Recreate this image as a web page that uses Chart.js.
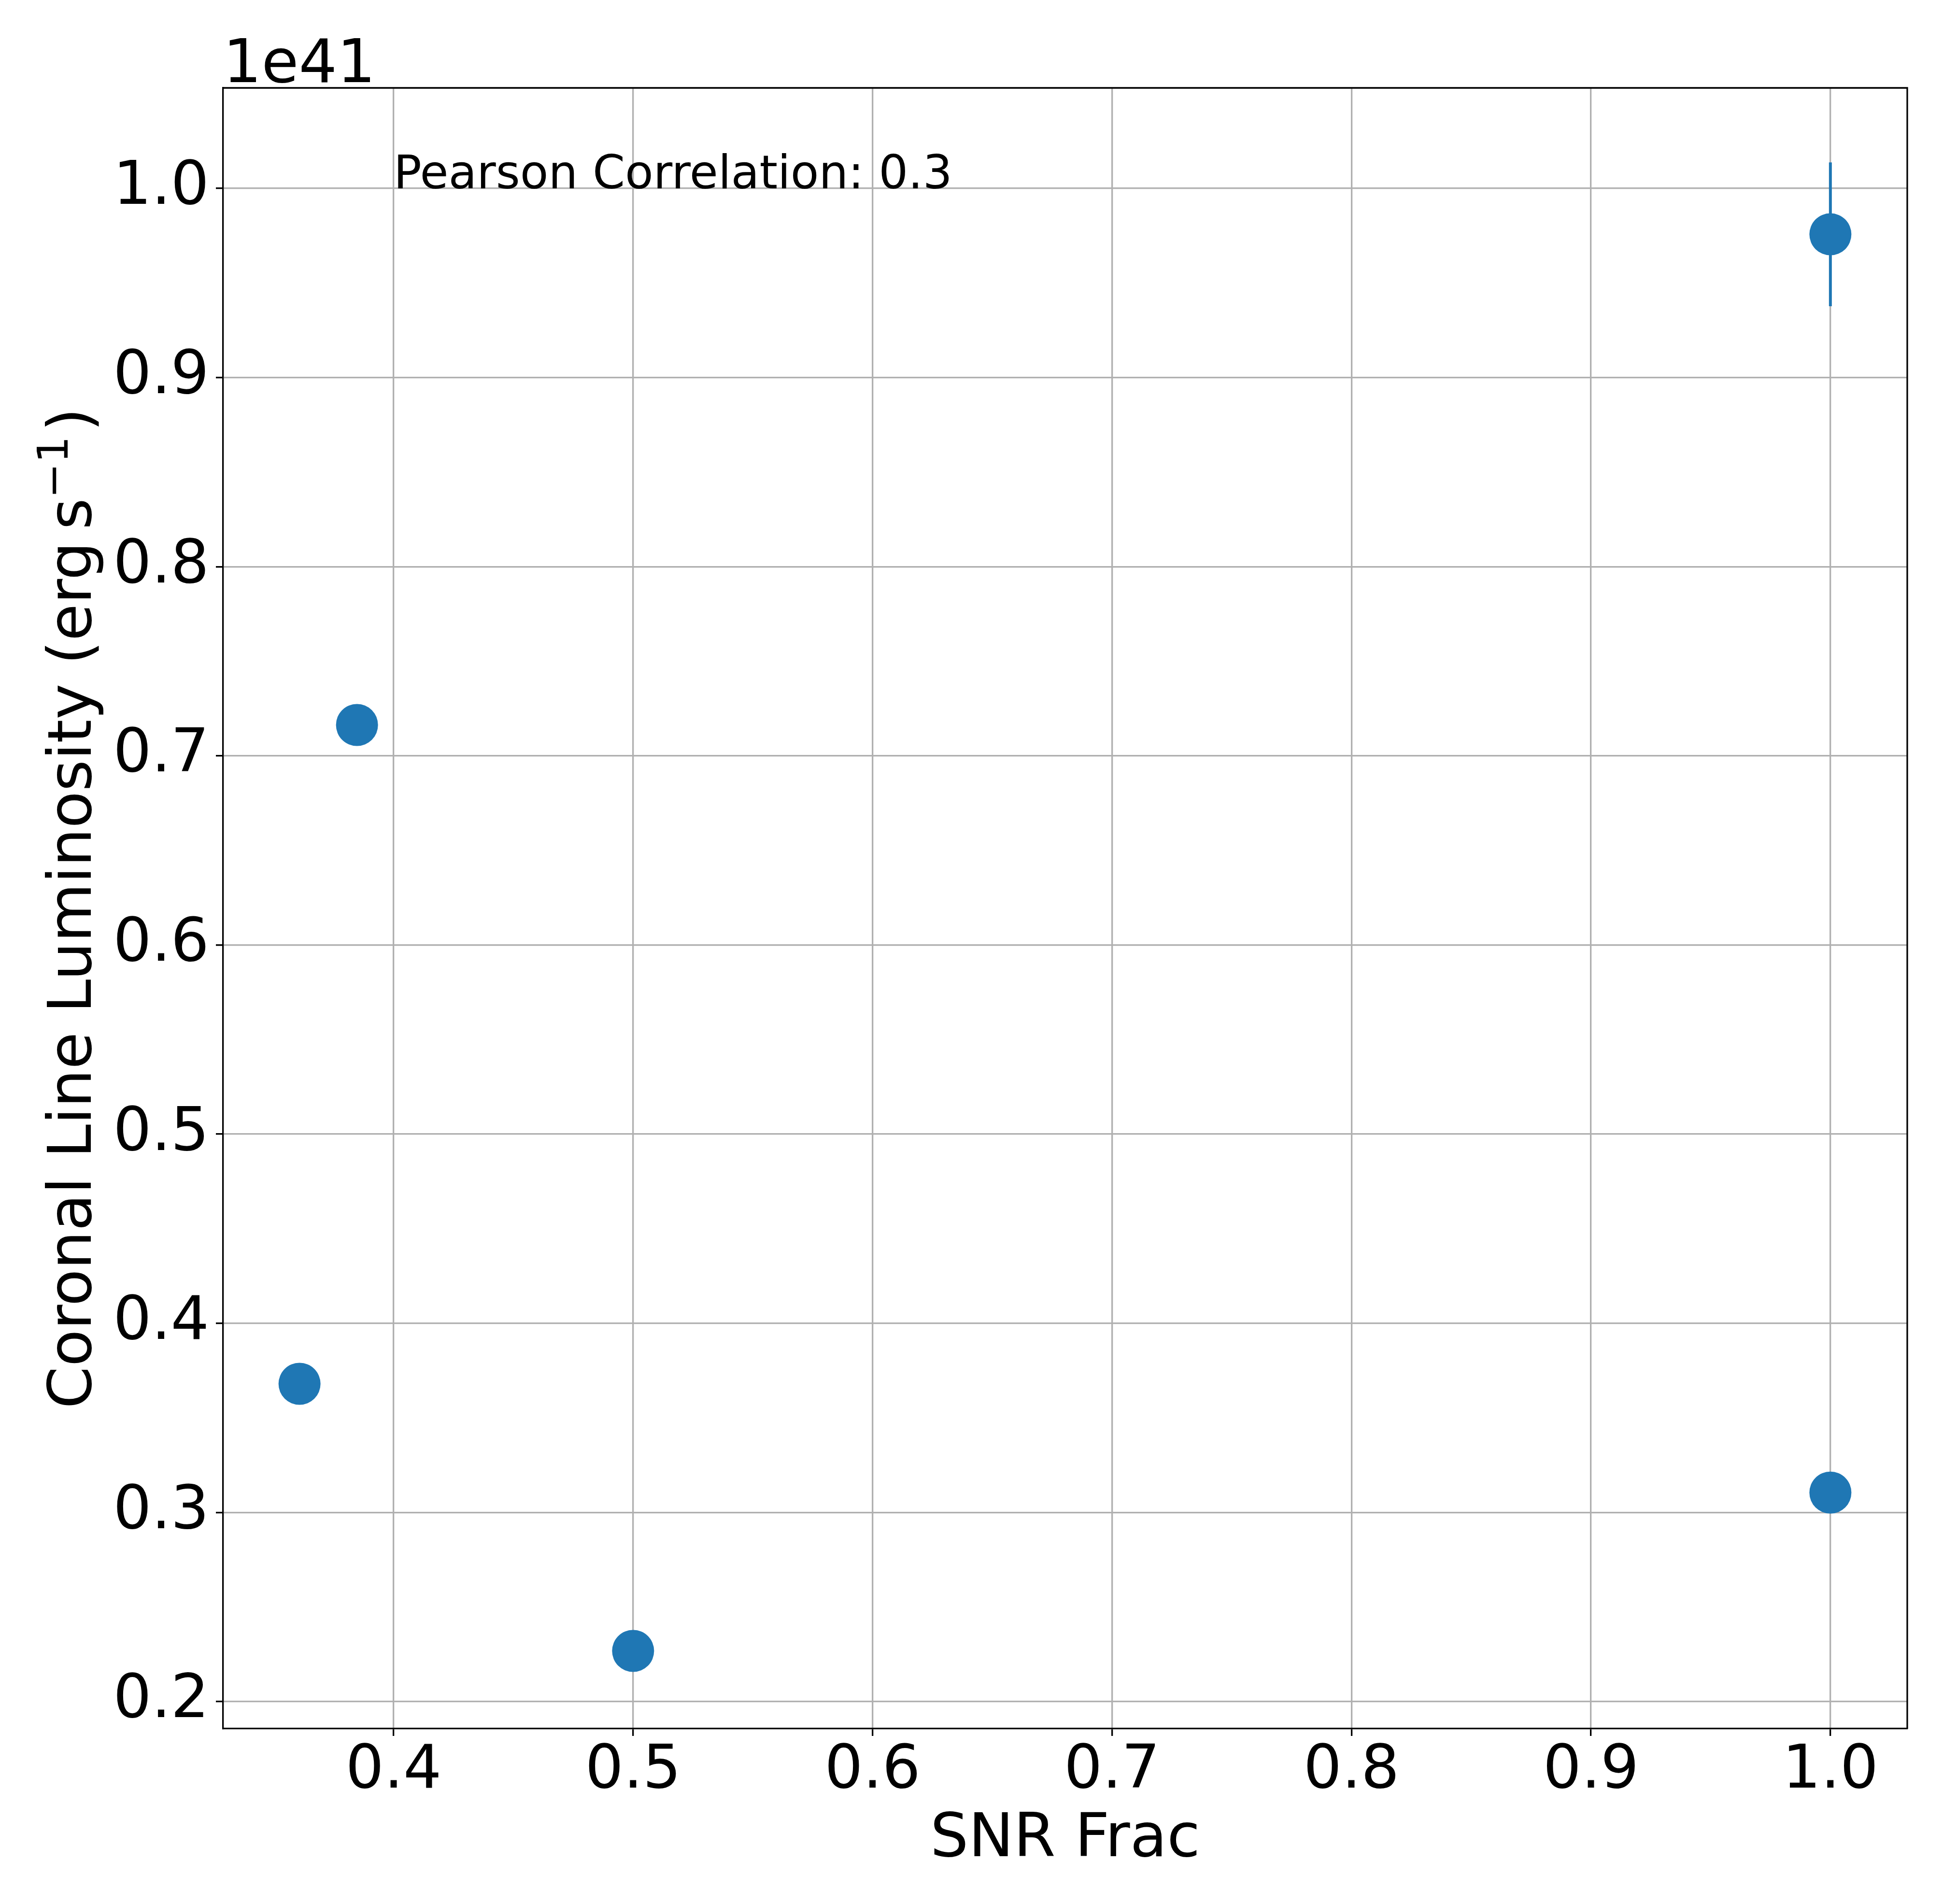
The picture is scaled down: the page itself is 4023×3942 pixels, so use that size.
<!DOCTYPE html>
<html>
<head>
<meta charset="utf-8">
<script src="https://cdn.jsdelivr.net/npm/chart.js@4.4.1/dist/chart.umd.min.js"></script>
<style>
  html, body { margin: 0; padding: 0; background: #fff; }
  canvas { display: block; }
</style>
</head>
<body>
<canvas id="chart" width="4023" height="3942" style="width:4023px;height:3942px"></canvas>
<script>
// values (luminosity in units of 1e41 erg/s)
const snrFrac    = [0.3607, 0.3847, 0.5, 1.0, 1.0];
const luminosity = [0.368, 0.7163, 0.2268, 0.3105, 0.9757];
const lumErr     = [0, 0, 0, 0, 0.038];

// axes
const xTicks = [0.4, 0.5, 0.6, 0.7, 0.8, 0.9, 1.0];
const yTicks = [0.2, 0.3, 0.4, 0.5, 0.6, 0.7, 0.8, 0.9, 1.0];
const xRange = [0.3288, 1.0321];
const yRange = [0.1857, 1.0531];

// text
const xLabel      = "SNR Frac";
const yLabelMain  = "Coronal Line Luminosity (erg\u2009s";
const yLabelSup   = "\u22121";
const yLabelEnd   = ")";
const offsetText  = "1e41";
const pearsonText = "Pearson Correlation: 0.3";
const pearsonAt   = [0.4, 1.0];

const FONT  = "'DejaVu Sans', sans-serif";
const BLUE  = "#1f77b4";
const GRID  = "#b0b0b0";
const LW    = 3.3;

// ---------------------------
// error bars + frame + labels
// ---------------------------
const extras = {
  id: "extras",
  beforeDatasetsDraw(chart) {
    const { ctx, scales: { x, y } } = chart;
    ctx.save();
    ctx.strokeStyle = BLUE;
    ctx.lineWidth = 6;
    ctx.lineCap = "butt";
    snrFrac.forEach((v, i) => {
      if (!lumErr[i]) return;
      const px = x.getPixelForValue(v);
      ctx.beginPath();
      ctx.moveTo(px, y.getPixelForValue(luminosity[i] - lumErr[i]));
      ctx.lineTo(px, y.getPixelForValue(luminosity[i] + lumErr[i]));
      ctx.stroke();
    });
    ctx.restore();
  },
  afterDraw(chart) {
    const { ctx, chartArea: a, scales: { x, y } } = chart;
    ctx.save();

    // top and right spines
    ctx.strokeStyle = "#000";
    ctx.lineWidth = LW;
    ctx.beginPath();
    ctx.moveTo(a.left, a.top);
    ctx.lineTo(a.right, a.top);
    ctx.lineTo(a.right, a.bottom);
    ctx.stroke();

    ctx.fillStyle = "#000";
    ctx.textBaseline = "alphabetic";

    // annotation
    ctx.font = `96px ${FONT}`;
    ctx.textAlign = "left";
    ctx.fillText(pearsonText, x.getPixelForValue(pearsonAt[0]), y.getPixelForValue(pearsonAt[1]));

    // offset text
    ctx.font = `125px ${FONT}`;
    ctx.fillText(offsetText, a.left, 170);

    // x label
    ctx.textAlign = "center";
    ctx.fillText(xLabel, (a.left + a.right) / 2, 3843);

    // y label, rotated, with superscript
    ctx.textAlign = "left";
    const mainFont = `125px ${FONT}`, supFont = `87px ${FONT}`;
    ctx.font = mainFont;
    const w1 = ctx.measureText(yLabelMain).width;
    const w3 = ctx.measureText(yLabelEnd).width;
    ctx.font = supFont;
    const w2 = ctx.measureText(yLabelSup).width;
    const gap = 10;
    const total = w1 + w2 + gap + w3;
    ctx.translate(188, (a.top + a.bottom) / 2);
    ctx.rotate(-Math.PI / 2);
    let cx = -total / 2;
    ctx.font = mainFont;
    ctx.fillText(yLabelMain, cx, 0);
    cx += w1;
    ctx.font = supFont;
    ctx.fillText(yLabelSup, cx, -48);
    cx += w2 + gap;
    ctx.font = mainFont;
    ctx.fillText(yLabelEnd, cx, 0);

    ctx.restore();
  }
};

const tickFmt = v => Number(v).toFixed(1);

new Chart(document.getElementById("chart"), {
  type: "scatter",
  data: {
    datasets: [{
      data: snrFrac.map((v, i) => ({ x: v, y: luminosity[i] })),
      backgroundColor: BLUE,
      borderColor: BLUE,
      pointRadius: 43.5,
      pointHoverRadius: 43.5,
      pointBorderWidth: 0
    }]
  },
  options: {
    responsive: false,
    devicePixelRatio: 1,
    animation: false,
    events: [],
    layout: { padding: { top: 182, right: 74, bottom: 0, left: 0 } },
    plugins: { legend: { display: false }, tooltip: { enabled: false } },
    scales: {
      x: {
        type: "linear",
        min: xRange[0],
        max: xRange[1],
        afterBuildTicks: s => { s.ticks = xTicks.map(v => ({ value: v })); },
        afterFit: s => { s.height = 3942 - 3579; },
        grid: { color: GRID, lineWidth: LW, tickColor: "#000", tickLength: 15, tickWidth: LW },
        border: { display: true, color: "#000", width: LW },
        ticks: {
          autoSkip: false, maxRotation: 0, minRotation: 0, padding: 0,
          color: "#000", font: { family: FONT, size: 125 }, callback: tickFmt
        }
      },
      y: {
        type: "linear",
        min: yRange[0],
        max: yRange[1],
        afterBuildTicks: s => { s.ticks = yTicks.map(v => ({ value: v })); },
        afterFit: s => { s.width = 462; },
        grid: { color: GRID, lineWidth: LW, tickColor: "#000", tickLength: 15, tickWidth: LW },
        border: { display: true, color: "#000", width: LW },
        ticks: {
          autoSkip: false, padding: 14,
          color: "#000", font: { family: FONT, size: 125 }, callback: tickFmt
        }
      }
    }
  },
  plugins: [extras]
});
</script>
</body>
</html>
